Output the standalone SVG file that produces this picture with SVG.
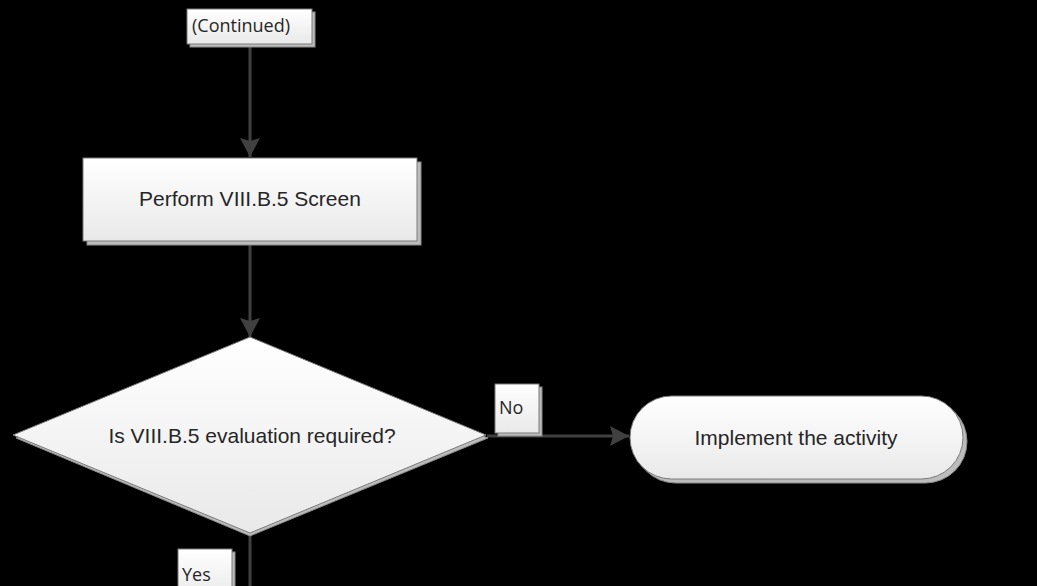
<svg xmlns="http://www.w3.org/2000/svg" width="1037" height="586" viewBox="0 0 1037 586">
<defs>
<linearGradient id="g" x1="0" y1="0" x2="0" y2="1">
<stop offset="0" stop-color="#ffffff"/>
<stop offset="1" stop-color="#e9e9e9"/>
</linearGradient>
<marker id="ah" markerWidth="19" markerHeight="20" refX="19" refY="10" orient="auto" markerUnits="userSpaceOnUse">
<path d="M0,0 L19,10 L0,20 L3,10 Z" fill="#404040"/>
</marker>
<style>
.shape{fill:url(#g);stroke:#7a7a7a;stroke-width:1}
.shadow{fill:#bcbcbc;stroke:#8a8a8a;stroke-width:1}
.t{font-family:"Liberation Sans",Arial,sans-serif;font-size:21px;fill:#262626;text-anchor:middle}
.lbl{font-family:"Open Sans",sans-serif;font-size:18px;fill:#262626}
.conn{stroke:#404040;stroke-width:3;fill:none}
</style>
</defs>
<rect width="1037" height="586" fill="#000"/>
<g id="connectors">
<line class="conn" x1="250" y1="44" x2="250" y2="157" marker-end="url(#ah)"/>
<line class="conn" x1="250" y1="241" x2="250" y2="337" marker-end="url(#ah)"/>
<line class="conn" x1="487" y1="436" x2="629" y2="436" marker-end="url(#ah)"/>
<line class="conn" x1="250" y1="533" x2="250" y2="586"/>
</g>
<g id="continued">
<rect class="shadow" x="190" y="12" width="125" height="35"/>
<rect class="shape" x="187" y="9" width="125" height="35"/>
<text class="lbl" x="192" y="32">(Continued)</text>
</g>
<g id="screen">
<rect class="shadow" x="87" y="162" width="334" height="83"/>
<rect class="shape" x="83" y="158" width="334" height="83"/>
<text class="t" x="250" y="206">Perform VIII.B.5 Screen</text>
</g>
<g id="decision">
<polygon class="shadow" points="250,340 488,438 250,536 16,438"/>
<polygon class="shape" points="250,337 486,435 250,533 13,435"/>
<text class="t" x="252" y="443">Is VIII.B.5 evaluation required?</text>
</g>
<g id="no-label">
<rect class="shadow" x="498" y="387" width="44" height="49"/>
<rect class="shape" x="495" y="384" width="44" height="49"/>
<text class="lbl" x="499" y="414">No</text>
</g>
<g id="implement">
<rect class="shadow" x="634" y="400" width="333" height="83" rx="41.5"/>
<rect class="shape" x="630" y="396" width="333" height="83" rx="41.5"/>
<text class="t" x="796" y="445">Implement the activity</text>
</g>
<g id="yes-label">
<rect class="shadow" x="181" y="552" width="54" height="49"/>
<rect class="shape" x="178" y="549" width="54" height="49"/>
<text class="lbl" x="182" y="581">Yes</text>
</g>
</svg>
